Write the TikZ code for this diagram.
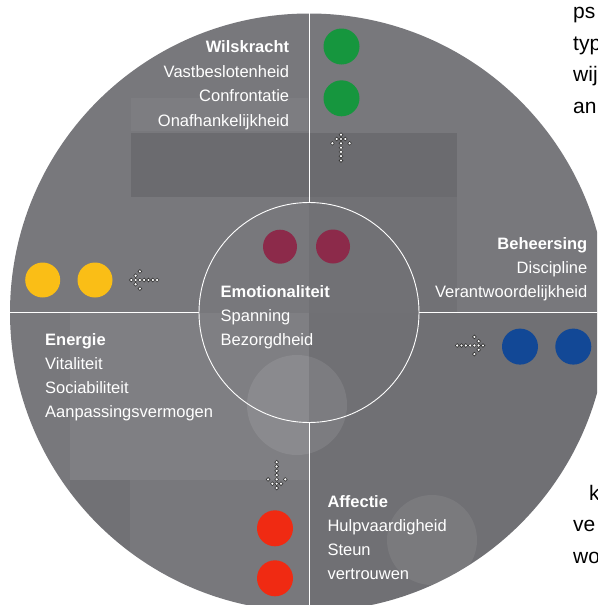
\documentclass[tikz,border=0pt]{standalone}
\usepackage{fontspec}
\setmainfont{Liberation Sans}
\definecolor{bggray}{RGB}{120,120,124}
\definecolor{dotgreen}{RGB}{22,150,62}
\definecolor{dotmaroon}{RGB}{140,42,74}
\definecolor{dotyellow}{RGB}{250,190,22}
\definecolor{dotblue}{RGB}{18,72,150}
\definecolor{dotred}{RGB}{240,42,18}
\tikzset{
  dot/.style={circle, minimum size=36pt, inner sep=0pt, draw=none},
  lbl/.style={text=white, font=\fontsize{16.5}{20}\selectfont, inner sep=0pt},
  headlbl/.style={text=white, font=\fontsize{16.5}{20}\selectfont\bfseries, inner sep=0pt},
  pagetxt/.style={text=black, font=\fontsize{21}{25}\selectfont, inner sep=0pt, anchor=base west},
  divider/.style={draw=white, line width=0.9pt},
  arrdot/.style={fill=white, draw=black!80, line width=0.6pt},
  pics/dotarrow/.style={code={
    \foreach \a in {0,...,6} {\path[arrdot] (-\a*4.3,0) circle (1.9pt);}
    \foreach \a/\b in {1/1,1/-1,2/2,2/-2} {\path[arrdot] (-\a*4.3,\b*4.3) circle (1.9pt);}
  }}
}
\begin{document}
\begin{tikzpicture}[x=1pt,y=-1pt]
\useasboundingbox (0,0) rectangle (597,605);
\clip (0,0) rectangle (597,605);
% outer disc
\node[circle, fill=bggray, minimum size=598pt, inner sep=0pt] (outer) at (309,312.5) {};
\begin{scope}
  \clip (309,312.5) circle (299pt);
  \fill[white, opacity=0.04] (131,98) rectangle (308,131);
  \fill[black, opacity=0.10] (131,133) rectangle (457,197);
  \fill[black, opacity=0.05] (309,197) rectangle (457,313);
  \fill[white, opacity=0.06] (70,313) rectangle (309,480);
  \fill[black, opacity=0.05] (70,480) rectangle (130,605);
  \fill[black, opacity=0.06] (309,313) rectangle (610,610);
  \fill[white, opacity=0.09] (297,405) circle (50pt);
  \fill[white, opacity=0.07] (432,540) circle (45pt);
\end{scope}
% inner circle
\node[circle, draw=white, line width=0.9pt, minimum size=220pt, inner sep=0pt] (inner) at (309,312.5) {};
% dividers
\draw[divider] (outer.north) -- (inner.north);
\draw[divider] (inner.south) -- (outer.south);
\draw[divider] (outer.west) -- (inner.west);
\draw[divider] (inner.east) -- (outer.east);
% dots
\node[dot, fill=dotgreen] (g1) at (341.5,46.5) {};
\node[dot, fill=dotgreen] (g2) at (341.5,98.3) {};
\node[dot, fill=dotmaroon, minimum size=34pt] (m1) at (280,246.7) {};
\node[dot, fill=dotmaroon, minimum size=34pt] (m2) at (333,246.5) {};
\node[dot, fill=dotyellow, minimum size=35pt] (y1) at (42.7,280) {};
\node[dot, fill=dotyellow, minimum size=35pt] (y2) at (95,280) {};
\node[dot, fill=dotblue] (b1) at (520,346.6) {};
\node[dot, fill=dotblue] (b2) at (573.3,346.6) {};
\node[dot, fill=dotred] (r1) at (275,528.3) {};
\node[dot, fill=dotred] (r2) at (275,578.3) {};
% dotted arrows
\pic[rotate=90] at (341,134.7) {dotarrow};
\pic[rotate=180] at (131.3,280) {dotarrow};
\pic at (483,345.5) {dotarrow};
\pic[rotate=-90] at (276.7,488) {dotarrow};
% Wilskracht
\node[headlbl, anchor=base east] (w0) at (289.3,52.5) {Wilskracht};
\node[lbl, anchor=base east] (w1) at (289.3,77) {Vastbeslotenheid};
\node[lbl, anchor=base east] (w2) at (289.3,101.5) {Confrontatie};
\node[lbl, anchor=base east] (w3) at (289.3,126) {Onafhankelijkheid};
% Beheersing
\node[headlbl, anchor=base east] (h0) at (587.5,249) {Beheersing};
\node[lbl, anchor=base east] (h1) at (587.5,273) {Discipline};
\node[lbl, anchor=base east] (h2) at (587.5,297) {Verantwoordelijkheid};
% Emotionaliteit
\node[headlbl, anchor=base west] (e0) at (220.5,297) {Emotionaliteit};
\node[lbl, anchor=base west] (e1) at (220.5,321) {Spanning};
\node[lbl, anchor=base west] (e2) at (220.5,345) {Bezorgdheid};
% Energie
\node[headlbl, anchor=base west] (n0) at (45,345) {Energie};
\node[lbl, anchor=base west] (n1) at (45,369) {Vitaliteit};
\node[lbl, anchor=base west] (n2) at (45,393) {Sociabiliteit};
\node[lbl, anchor=base west] (n3) at (45,417) {Aanpassingsvermogen};
% Affectie
\node[headlbl, anchor=base west] (a0) at (327.3,507) {Affectie};
\node[lbl, anchor=base west] (a1) at (327.3,531) {Hulpvaardigheid};
\node[lbl, anchor=base west] (a2) at (327.3,555) {Steun};
\node[lbl, anchor=base west] (a3) at (327.3,579) {vertrouwen};
% page text at the right edge (cut off by the page edge, as in the reference)
\node[pagetxt] (p1) at (573,18.5) {ps};
\node[pagetxt] (p2) at (573,50) {typ};
\node[pagetxt] (p3) at (573,81.5) {wij};
\node[pagetxt] (p4) at (573,113) {an};
\node[pagetxt] (p5) at (589,500) {k};
\node[pagetxt] (p6) at (573,531.5) {ve};
\node[pagetxt] (p7) at (573,563) {wo};
\end{tikzpicture}
\end{document}
